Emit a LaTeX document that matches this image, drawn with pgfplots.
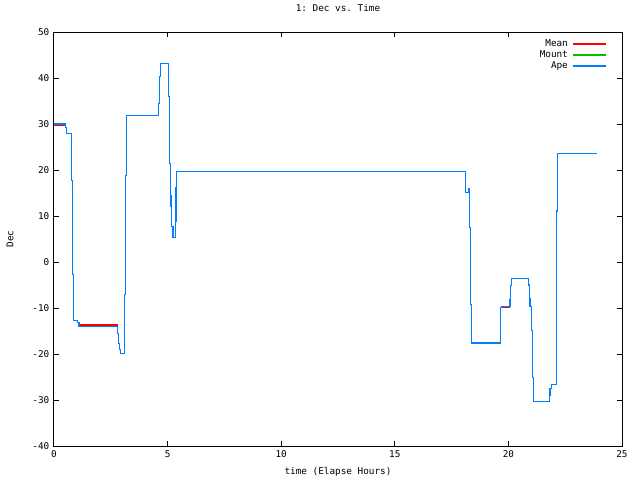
\documentclass[border=0pt]{standalone}
\usepackage{fontspec}
\setmonofont{DejaVu Sans Mono}
\usepackage{pgfplots}
\pgfplotsset{compat=1.18}
\definecolor{gpred}{RGB}{255,0,0}
\definecolor{gpgreen}{RGB}{0,192,0}
\definecolor{gpblue}{RGB}{0,128,255}
\newcommand{\gpfont}{\ttfamily\fontsize{7}{8}\selectfont}
\begin{document}
\begin{tikzpicture}
\useasboundingbox (-40.5pt,-25.5pt) rectangle (439.5pt,334.5pt);
\begin{axis}[
  scale only axis,
  width=426pt, height=310.5pt,
  xmin=0, xmax=25, ymin=-40, ymax=50,
  xtick={0,5,...,25}, ytick={-40,-30,...,50},
  tick align=inside, major tick length=3.75pt,
  tick style={black, line width=0.75pt},
  axis line style={line width=0.75pt},
  /pgf/number format/assume math mode=true,
  ticklabel style={font=\gpfont},
  title={1: Dec vs. Time},
  xlabel={time (Elapse Hours)},
  ylabel={Dec},
  title style={font=\gpfont, at={(axis description cs:0.5,1)}, anchor=center, yshift=12pt},
  xlabel style={font=\gpfont, at={(axis description cs:0.5,0)}, anchor=center, yshift=-19.5pt},
  ylabel style={font=\gpfont, at={(axis description cs:-0.0775,0.5)}, anchor=center},
  legend cell align=right,
  legend plot pos=right,
  legend image code/.code={\draw[#1, line width=1.4pt] (0pt,0pt) -- (25pt,0pt);},
  legend style={at={(axis description cs:1,1)}, anchor=north east, xshift=-11pt, yshift=-4.5pt,
    draw=none, fill=none, font=\gpfont, inner sep=0pt,
    nodes={inner ysep=0.8pt, inner xsep=3pt}},
  every axis plot/.append style={line width=0.85pt},
]
\addplot[gpred] coordinates {
(0,29.7) (0.50,29.7) (0.50,29.3) (0.56,29.3) (0.56,27.9) (0.78,27.9) (0.78,17.7) (0.81,17.7)
(0.81,-2.7) (0.85,-2.7) (0.85,-12.8) (1.03,-12.8) (1.03,-13.2) (1.10,-13.2) (1.10,-13.7) (2.80,-13.7)
(2.80,-15.5) (2.85,-15.5) (2.85,-17.7) (2.89,-17.7) (2.89,-19) (2.92,-19) (2.92,-19.85) (3.10,-19.85)
(3.10,-7) (3.14,-7) (3.14,18.8) (3.18,18.8) (3.18,31.9) (4.61,31.9) (4.61,34.5) (4.64,34.5)
(4.64,40.3) (4.67,40.3) (4.67,43.2) (5.03,43.2) (5.03,35.9) (5.08,35.9) (5.08,21.45) (5.11,21.45)
(5.11,14.35) (5.15,14.35) (5.15,12.0) (5.19,12.0) (5.19,7.7) (5.24,7.7) (5.24,5.4) (5.34,5.4)
(5.34,8.85) (5.37,8.85) (5.37,16.1) (5.41,16.1) (5.41,19.7) (18.10,19.7) (18.10,18.5) (18.13,18.5)
(18.13,15.1) (18.24,15.1) (18.24,16) (18.28,16) (18.28,7.5) (18.33,7.5) (18.33,-9.3) (18.37,-9.3)
(18.37,-17.6) (19.65,-17.6) (19.65,-13.9) (19.67,-13.9) (19.67,-9.8) (19.72,-9.8) (19.72,-9.95) (20.05,-9.95)
(20.05,-8.1) (20.10,-8.1) (20.10,-5.1) (20.15,-5.1) (20.15,-3.5) (20.88,-3.5) (20.88,-5.0) (20.91,-5.0)
(20.91,-8.0) (20.95,-8.0) (20.95,-9.6) (21.02,-9.6) (21.02,-14.8) (21.07,-14.8) (21.07,-25.2) (21.11,-25.2)
(21.11,-30.3) (21.80,-30.3) (21.80,-28.9) (21.83,-28.9) (21.83,-27.5) (21.88,-27.5) (21.88,-26.6) (22.10,-26.6)
(22.10,-14.1) (22.13,-14.1) (22.13,11.1) (22.17,11.1) (22.17,23.6) (23.89,23.6)
};
\addlegendentry{Mean}
\addplot[gpgreen] coordinates {
(0,30) (0.50,30) (0.50,29.3) (0.56,29.3) (0.56,27.9) (0.78,27.9) (0.78,17.7) (0.81,17.7)
(0.81,-2.7) (0.85,-2.7) (0.85,-12.8) (1.03,-12.8) (1.03,-13.2) (1.10,-13.2) (1.10,-14.1) (2.80,-14.1)
(2.80,-15.5) (2.85,-15.5) (2.85,-17.7) (2.89,-17.7) (2.89,-19) (2.92,-19) (2.92,-19.85) (3.10,-19.85)
(3.10,-7) (3.14,-7) (3.14,18.8) (3.18,18.8) (3.18,31.9) (4.61,31.9) (4.61,34.5) (4.64,34.5)
(4.64,40.3) (4.67,40.3) (4.67,43.2) (5.03,43.2) (5.03,35.9) (5.08,35.9) (5.08,21.45) (5.11,21.45)
(5.11,14.35) (5.15,14.35) (5.15,12.0) (5.19,12.0) (5.19,7.7) (5.24,7.7) (5.24,5.4) (5.34,5.4)
(5.34,8.85) (5.37,8.85) (5.37,16.1) (5.41,16.1) (5.41,19.7) (18.10,19.7) (18.10,18.5) (18.13,18.5)
(18.13,15.1) (18.24,15.1) (18.24,16) (18.28,16) (18.28,7.5) (18.33,7.5) (18.33,-9.3) (18.37,-9.3)
(18.37,-17.6) (19.65,-17.6) (19.65,-13.9) (19.67,-13.9) (19.67,-9.8) (19.72,-9.8) (19.72,-9.6) (20.07,-9.6)
(20.07,-8.1) (20.10,-8.1) (20.10,-5.1) (20.15,-5.1) (20.15,-3.5) (20.88,-3.5) (20.88,-5.0) (20.91,-5.0)
(20.91,-8.0) (20.95,-8.0) (20.95,-9.6) (21.02,-9.6) (21.02,-14.8) (21.07,-14.8) (21.07,-25.2) (21.11,-25.2)
(21.11,-30.3) (21.80,-30.3) (21.80,-28.9) (21.83,-28.9) (21.83,-27.5) (21.88,-27.5) (21.88,-26.6) (22.10,-26.6)
(22.10,-14.1) (22.13,-14.1) (22.13,11.1) (22.17,11.1) (22.17,23.6) (23.89,23.6)
};
\addlegendentry{Mount}
\addplot[gpblue] coordinates {
(0,30) (0.50,30) (0.50,29.3) (0.56,29.3) (0.56,27.9) (0.78,27.9) (0.78,17.7) (0.81,17.7)
(0.81,-2.7) (0.85,-2.7) (0.85,-12.8) (1.03,-12.8) (1.03,-13.2) (1.10,-13.2) (1.10,-14.1) (2.80,-14.1)
(2.80,-15.5) (2.85,-15.5) (2.85,-17.7) (2.89,-17.7) (2.89,-19) (2.92,-19) (2.92,-19.85) (3.10,-19.85)
(3.10,-7) (3.14,-7) (3.14,18.8) (3.18,18.8) (3.18,31.9) (4.61,31.9) (4.61,34.5) (4.64,34.5)
(4.64,40.3) (4.67,40.3) (4.67,43.2) (5.03,43.2) (5.03,35.9) (5.08,35.9) (5.08,21.45) (5.11,21.45)
(5.11,14.35) (5.15,14.35) (5.15,12.0) (5.19,12.0) (5.19,7.7) (5.24,7.7) (5.24,5.4) (5.34,5.4)
(5.34,8.85) (5.37,8.85) (5.37,16.1) (5.41,16.1) (5.41,19.7) (18.10,19.7) (18.10,18.5) (18.13,18.5)
(18.13,15.1) (18.24,15.1) (18.24,16) (18.28,16) (18.28,7.5) (18.33,7.5) (18.33,-9.3) (18.37,-9.3)
(18.37,-17.6) (19.65,-17.6) (19.65,-13.9) (19.67,-13.9) (19.67,-9.8) (19.72,-9.8) (19.72,-9.6) (20.07,-9.6)
(20.07,-8.1) (20.10,-8.1) (20.10,-5.1) (20.15,-5.1) (20.15,-3.5) (20.88,-3.5) (20.88,-5.0) (20.91,-5.0)
(20.91,-8.0) (20.95,-8.0) (20.95,-9.6) (21.02,-9.6) (21.02,-14.8) (21.07,-14.8) (21.07,-25.2) (21.11,-25.2)
(21.11,-30.3) (21.80,-30.3) (21.80,-28.9) (21.83,-28.9) (21.83,-27.5) (21.88,-27.5) (21.88,-26.6) (22.10,-26.6)
(22.10,-14.1) (22.13,-14.1) (22.13,11.1) (22.17,11.1) (22.17,23.6) (23.89,23.6)
};
\addlegendentry{Ape}
\end{axis}
\end{tikzpicture}
\end{document}
